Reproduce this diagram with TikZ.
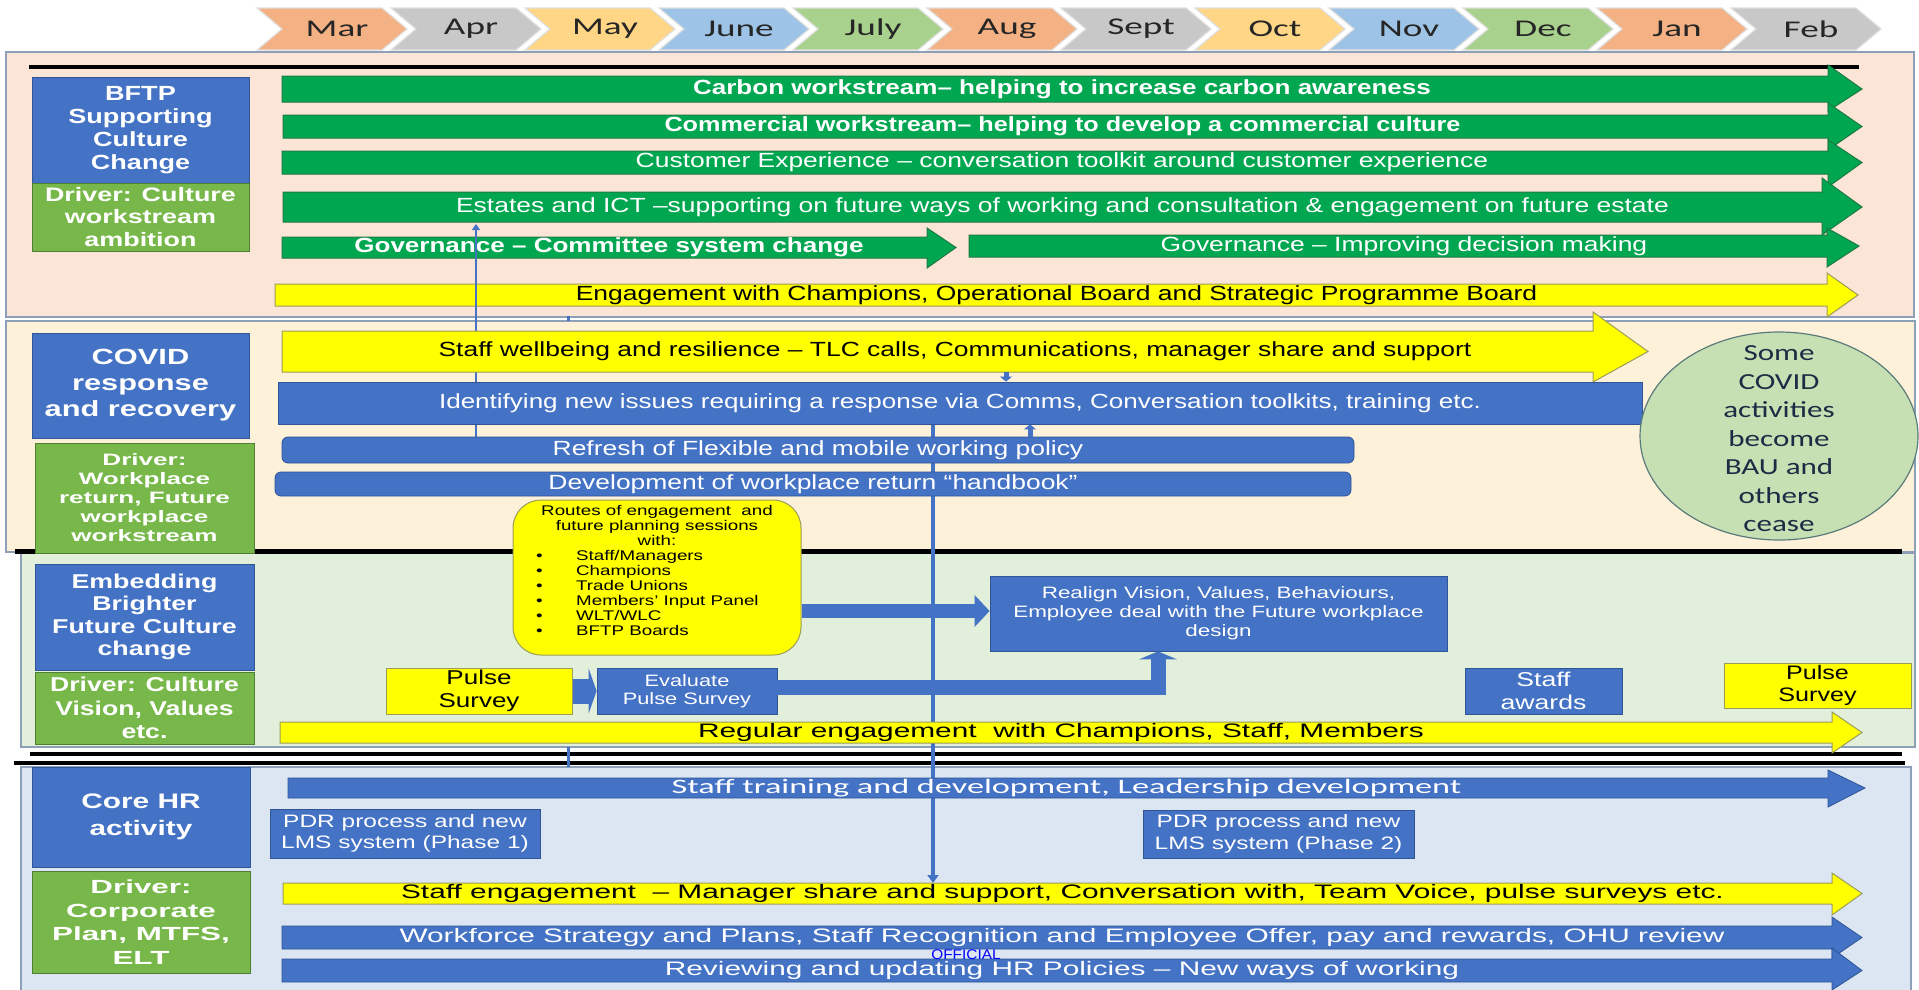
\documentclass[tikz,border=0pt]{standalone}
\usepackage{fontspec}
\setmainfont{Liberation Sans}
\newfontfamily\carl{Carlito}
\usetikzlibrary{arrows.meta,shapes.geometric}
\pgfdeclarelayer{back}\pgfdeclarelayer{mid}\pgfsetlayers{back,mid,main}
\newcommand\ff[3]{\fontsize{#1}{#2}\selectfont\addfontfeatures{FakeStretch=#3}}
\newcommand\bx[7]{\node[#1, minimum width={(#5-#3)*1pt}, minimum height={(#6-#4)*1pt}] (#2) at ({(#3+#5)/2},{(#4+#6)/2}) {#7};}
\newcommand\barr[9]{\path[#1] (#3,#4) -- (#6,#4) -- (#6,#8) -- (#7,{(#4+#5)/2}) -- (#6,#9) -- (#6,#5) -- (#3,#5) -- cycle; \coordinate (#2) at ({(#3+#7)/2-10},{(#4+#5)/2});}
\definecolor{pch}{HTML}{FBE5D6}
\definecolor{crm}{HTML}{FDF1D9}
\definecolor{lgr}{HTML}{E2EFDA}
\definecolor{lbl}{HTML}{DCE6F2}
\definecolor{secb}{HTML}{8EA0B8}
\definecolor{bblue}{HTML}{4472C4}
\definecolor{bblueD}{HTML}{2F5597}
\definecolor{dgreen}{HTML}{78B84A}
\definecolor{dgreenD}{HTML}{4E7F33}
\definecolor{agreen}{HTML}{00A650}
\definecolor{agreenD}{HTML}{1E7B45}
\definecolor{yel}{HTML}{FFFF00}
\definecolor{yelD}{HTML}{9C9C5A}
\definecolor{ellF}{HTML}{C6E0B4}
\definecolor{ellD}{HTML}{5B7B7B}
\definecolor{elltx}{HTML}{1F2A44}
\definecolor{mtx}{HTML}{262626}
\definecolor{cSal}{HTML}{F4B183}
\definecolor{cGry}{HTML}{C8C8C8}
\definecolor{cOrg}{HTML}{FFD685}
\definecolor{cBlu}{HTML}{9DC3E6}
\definecolor{cGrn}{HTML}{A9D18E}
\tikzset{
 sec/.style={draw=secb, line width=1.5pt},
 lbox/.style={inner sep=0pt, align=center, text=white, line width=1pt},
 bluel/.style={lbox, fill=bblue, draw=bblueD},
 greenl/.style={lbox, fill=dgreen, draw=dgreenD},
 gbar/.style={fill=agreen, draw=agreenD, line width=1pt},
 ybar/.style={fill=yel, draw=yelD, line width=1pt},
 bbar/.style={fill=bblue, draw=bblueD, line width=0.8pt},
 fA/.style={font={\ff{20.5}{23}{1.29}}},
 fAb/.style={font={\bfseries\ff{20.5}{23}{1.27}}},
 fB/.style={font={\ff{19.5}{22}{1.53}}},
 wtext/.style={text=white, inner sep=0pt},
 ktext/.style={text=black, inner sep=0pt},
 bbox/.style={fill=bblue, draw=bblueD, line width=0.8pt, text=white, inner sep=0pt, align=center},
 ybox/.style={fill=yel, draw=yelD, line width=1pt, text=black, inner sep=0pt, align=center},
 vline/.style={draw=bblue, line width=3.5pt},
 chev/.style={draw=white!75!gray, line width=1.2pt},
 mtext/.style={font={\carl\ff{24}{28}{1.55}}, text=mtx, inner sep=0pt},
}
\begin{document}
\begin{tikzpicture}[x=1pt,y=-1pt]
\useasboundingbox (0,0) rectangle (1919,989);
\begin{pgfonlayer}{back}
\fill[white] (0,0) rectangle (1919,989);
\path[sec, fill=pch] (6,52) rectangle (1914,317);
\path[sec, fill=crm] (6,321) rectangle (1915,552);
\path[sec, fill=lgr] (21,553) rectangle (1915,747);
\path[sec, fill=lbl] (21,767) rectangle (1911,1000);
\draw[black, line width=4.5pt] (29,67) -- (1859,67);
\draw[black, line width=5pt] (15,551) -- (1902,551);
\draw[black, line width=3.5pt] (30,754) -- (1902,754);
\draw[black, line width=4pt] (14,763) -- (1905,763);
\end{pgfonlayer}

% left boxes
\bx{bluel,font={\bfseries\ff{20.5}{23}{1.32}}}{bftp}{32}{77}{249}{183}{BFTP\\Supporting\\Culture\\Change}
\bx{greenl,font={\bfseries\ff{19.5}{22.5}{1.38}}}{drvA}{32}{183}{249}{251}{Driver: Culture\\workstream\\ambition}
\bx{bluel,font={\bfseries\ff{22}{26}{1.4}}}{covid}{32}{333}{249}{438}{COVID\\response\\and recovery}
\bx{greenl,font={\bfseries\ff{16.5}{19}{1.58}}}{drvB}{35}{443}{254}{553}{Driver:\\Workplace\\return, Future\\workplace\\workstream}
\bx{bluel,font={\bfseries\ff{20}{22.5}{1.34}}}{embed}{35}{564}{254}{670}{Embedding\\Brighter\\Future Culture\\change}
\bx{greenl,font={\bfseries\ff{20}{23.5}{1.33}}}{drvC}{35}{672}{254}{744}{Driver: Culture\\Vision, Values\\etc.}
\bx{bluel,font={\bfseries\ff{21}{27}{1.42}}}{corehr}{32}{767}{250}{867}{Core HR\\activity}
\bx{greenl,font={\bfseries\ff{19}{23.5}{1.65}}}{drvD}{32}{871}{250}{973}{Driver:\\Corporate\\Plan, MTFS,\\ELT}

% section 1 bars
\barr{gbar}{carbonC}{282}{76}{102}{1828}{1862}{65}{111}
\node[wtext,fAb] (carbon) at (carbonC) {Carbon workstream– helping to increase carbon awareness};
\barr{gbar}{commC}{283}{115}{138}{1828}{1862}{103}{150}
\node[wtext,font={\bfseries\ff{20.5}{23}{1.23}}] (comm) at (commC) {Commercial workstream– helping to develop a commercial culture};
\barr{gbar}{custC}{282}{151}{174}{1828}{1862}{140}{187}
\node[wtext,fA] (cust) at (custC) {Customer Experience – conversation toolkit around customer experience};
\barr{gbar}{estC}{283}{192}{222}{1822}{1862}{178}{235}
\node[wtext,fA] (est) at (estC) {Estates and ICT –supporting on future ways of working and consultation \& engagement on future estate};
\barr{gbar}{govLC}{282}{237}{258}{927}{956}{228}{268}
\node[wtext,fAb] (govL) at (govLC) {Governance – Committee system change};
\barr{gbar}{govRC}{969}{235}{257}{1827}{1859}{228}{267}
\node[wtext,fA] (govR) at (govRC) {Governance – Improving decision making};
\barr{ybar}{engC}{275}{284}{306}{1827}{1858}{273}{317}
\node[ktext,fA] (eng) at (engC) {Engagement with Champions, Operational Board and Strategic Programme Board};

% line crossing section 1
\coordinate (estBot) at (476,224);
\coordinate (refTop) at (476,437);
\draw[draw=bblue, line width=2.8pt, -{Triangle[length=6pt,width=8pt]}] (refTop) -- (estBot);
\draw[draw=bblue, line width=3pt] (568,316) -- (568,321);

% section 2
\barr{ybar}{swC}{282}{331}{372}{1593}{1648}{312}{382}
\node[ktext,fA] (sw) at (swC) {Staff wellbeing and resilience – TLC calls, Communications, manager share and support};
\bx{bbar,wtext,font={\ff{20.5}{23}{1.27}}}{ident}{278}{382}{1642}{424}{Identifying new issues requiring a response via Comms, Conversation toolkits, training etc.}
\bx{bbar,wtext,fA,rounded corners=6pt}{refresh}{282}{437}{1354}{463}{Refresh of Flexible and mobile working policy}
\bx{bbar,wtext,fA,rounded corners=6pt}{devel}{275}{472}{1351}{496}{Development of workplace return “handbook”}
\coordinate (swBot) at (1006,372);
\draw[draw=bblue, line width=5pt, -{Triangle[length=5pt,width=12pt]}] (swBot) -- (1006,0 |- ident.north);
\draw[draw=bblue, line width=5pt, -{Triangle[length=5pt,width=12pt]}] (1030,0 |- refresh.north) -- (1030,0 |- ident.south);

\node[ellipse, draw=ellD, fill=ellF, line width=1.2pt, minimum width=278pt, minimum height=208pt, inner sep=0pt] (ell) at (1779,436) {};
\node[font={\carl\ff{23}{28.5}{1.35}}, text=elltx, align=center, inner sep=0pt] (elltext) at (1779,439) {Some\\COVID\\activities\\become\\BAU and\\others\\cease};

% section 3
\bx{ybox,rounded corners=28pt}{routes}{513}{500}{801}{655}{}
\node[ktext, align=center, font={\ff{14}{15}{1.34}}] (routesHead) at (657,525) {Routes of engagement \ and\\future planning sessions\\with:};
\node[ktext, align=left, anchor=west, font={\ff{14}{15}{1.34}}] (routesList) at (536,592.5) {\makebox[40pt][l]{•}Staff/Managers\\\makebox[40pt][l]{•}Champions\\\makebox[40pt][l]{•}Trade Unions\\\makebox[40pt][l]{•}Members’ Input Panel\\\makebox[40pt][l]{•}WLT/WLC\\\makebox[40pt][l]{•}BFTP Boards};
\bx{bbox,font={\ff{16.5}{19}{1.36}}}{realign}{990}{576}{1447}{651}{Realign Vision, Values, Behaviours,\\Employee deal with the Future workplace\\design}
\bx{ybox,font={\ff{20}{23}{1.3}}}{pulseA}{386}{668}{572}{714}{Pulse\\Survey}
\bx{bbox,font={\ff{16.5}{18.5}{1.32}}}{evalu}{597}{668}{777}{714}{Evaluate\\Pulse Survey}
\bx{bbox,font={\ff{20}{23}{1.33}}}{awards}{1465}{668}{1622}{714}{Staff\\awards}
\bx{ybox,font={\ff{19.5}{22}{1.29}}}{pulseB}{1724}{663}{1911}{708}{Pulse\\Survey}
\draw[draw=bblue, line width=14pt, -{Triangle[length=15pt,width=31pt]}] (routes.east |- 0,611) -- (realign.west |- 0,611);
\draw[draw=bblue, line width=25pt, -{Triangle[length=8pt,width=45pt]}] (pulseA.east) -- (evalu.west);
\draw[draw=bblue, line width=15pt, line join=miter, -{Triangle[length=8pt,width=38pt]}] (evalu.east |- 0,687) -| (1158,0 |- realign.south);
\barr{ybar}{regC}{280}{722}{743}{1832}{1862}{712}{753}
\node[ktext,fB] (reg) at (regC) {Regular engagement \ with Champions, Staff, Members};

% section 4
\barr{bbar}{trainC}{288}{778}{798}{1828}{1865}{770}{807}
\node[wtext,font={\carl\ff{20.5}{23}{1.67}}] (train) at (trainC) {Staff training and development, Leadership development};
\bx{bbox,font={\ff{18}{21.5}{1.36}}}{pdrA}{270}{809}{540}{858}{PDR process and new\\LMS system (Phase 1)}
\bx{bbox,font={\ff{18}{21.5}{1.36}}}{pdrB}{1143}{810}{1414}{858}{PDR process and new\\LMS system (Phase 2)}
\barr{ybar}{sengC}{283}{883}{904}{1832}{1862}{873}{915}
\node[ktext,fB] (seng) at (sengC) {Staff engagement \ – Manager share and support, Conversation with, Team Voice, pulse surveys etc.};
\barr{bbar}{wfC}{282}{926}{949}{1832}{1862}{917}{958}
\node[wtext,fB] (wf) at (wfC) {Workforce Strategy and Plans, Staff Recognition and Employee Offer, pay and rewards, OHU review};
\barr{bbar}{revC}{282}{959}{982}{1832}{1862}{948}{990}
\node[wtext,fB] (rev) at (revC) {Reviewing and updating HR Policies – New ways of working};
\node[text=blue, inner sep=0pt, font={\ff{14}{16}{1.1}}] (official) at (966,955) {OFFICIAL};

% main vertical line (behind bars)
\coordinate (sengTop) at (933,883);
\begin{pgfonlayer}{mid}
\draw[vline, -{Triangle[length=8pt,width=11pt]}] (933,0 |- ident.south) -- (sengTop);
\draw[draw=bblue, line width=3pt] (568,747) -- (568,767);
\end{pgfonlayer}

% month chevrons
\foreach \i/\m/\c in {0/Mar/cSal,1/Apr/cGry,2/May/cOrg,3/June/cBlu,4/July/cGrn,5/Aug/cSal,6/Sept/cGry,7/Oct/cOrg,8/Nov/cBlu,9/Dec/cGrn,10/Jan/cSal,11/Feb/cGry}{
 \pgfmathsetmacro\xa{257+134*\i}
 \path[chev, fill=\c] (\xa,8) -- ({\xa+125},8) -- ({\xa+150},29) -- ({\xa+125},50) -- (\xa,50) -- ({\xa+25},29) -- cycle;
 \node[mtext] (m\i) at ({\xa+80},29) {\m};
}
\end{tikzpicture}
\end{document}
